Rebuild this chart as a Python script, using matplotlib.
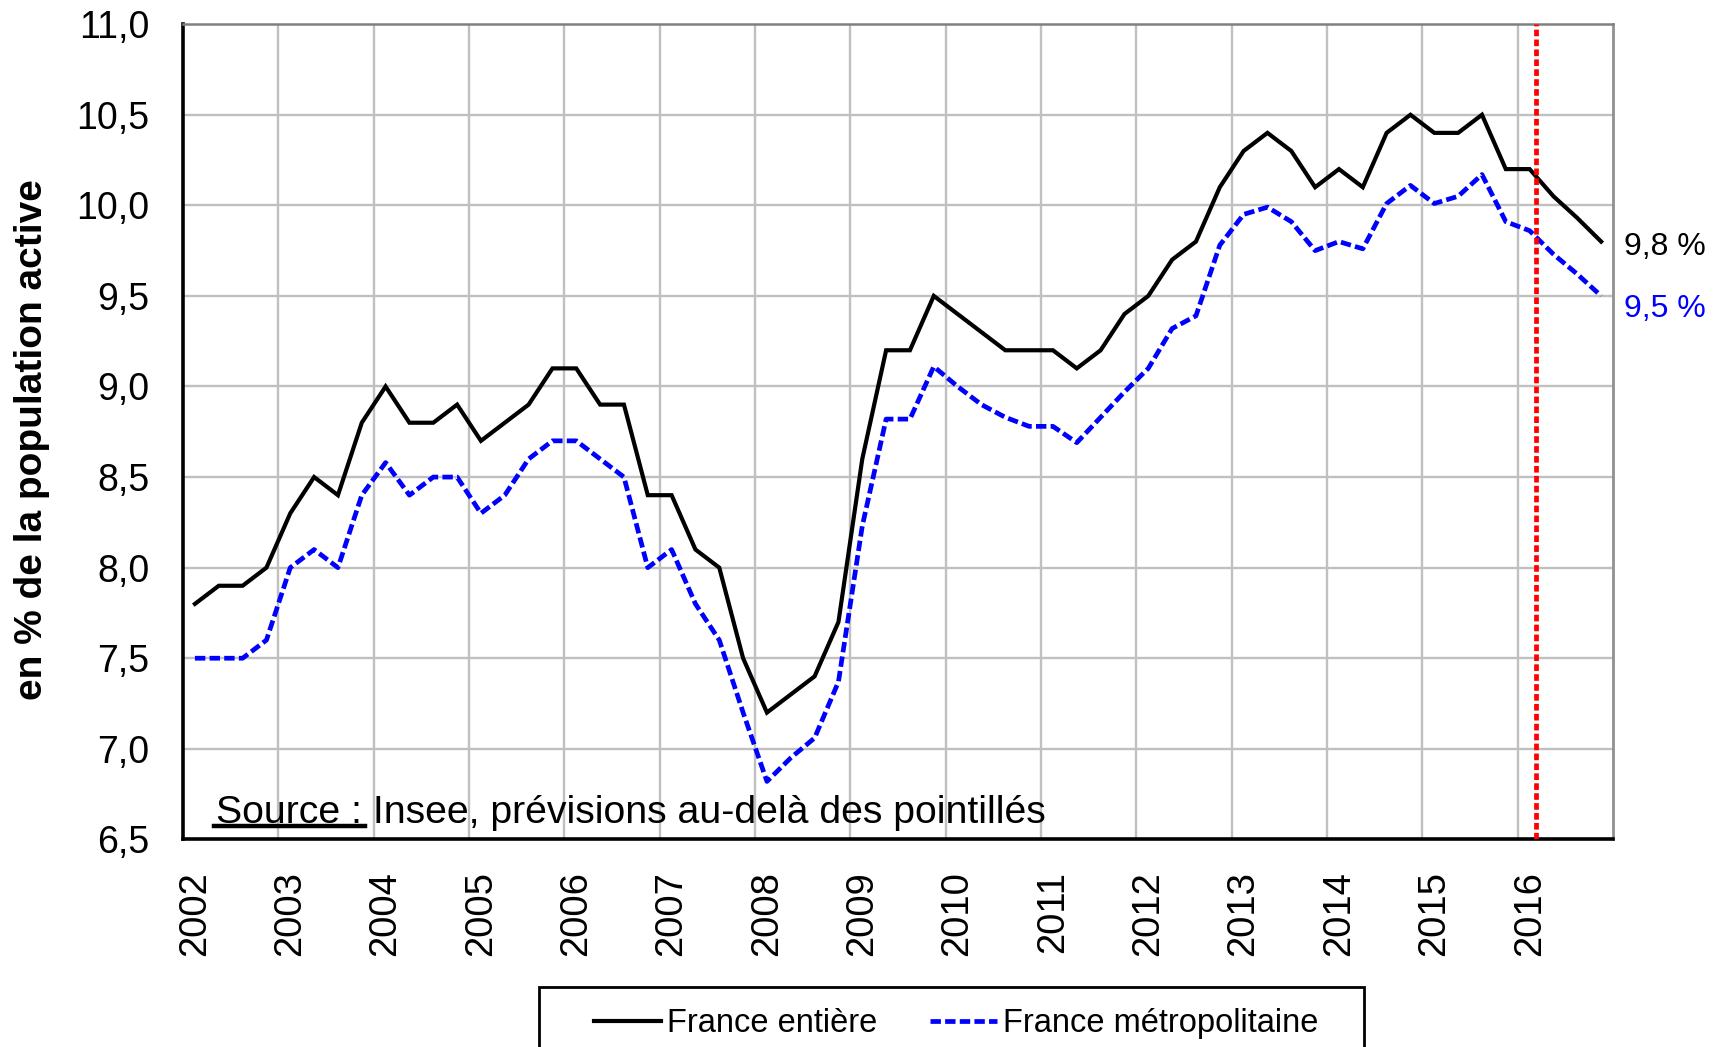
import numpy as np
import matplotlib
matplotlib.use("Agg")
import matplotlib.pyplot as plt
from matplotlib.lines import Line2D
from matplotlib.patches import Rectangle
from matplotlib.ticker import FuncFormatter
import matplotlib.transforms as mtransforms

plt.rcParams['font.family'] = ['Liberation Sans', 'DejaVu Sans']

# quarterly unemployment rate, 2002Q1 .. 2016Q4
years = list(range(2002, 2017))
france_entiere = [
    7.8, 7.9, 7.9, 8.0,
    8.3, 8.5, 8.4, 8.8,
    9.0, 8.8, 8.8, 8.9,
    8.7, 8.8, 8.9, 9.1,
    9.1, 8.9, 8.9, 8.4,
    8.4, 8.1, 8.0, 7.5,
    7.2, 7.3, 7.4, 7.7,
    8.6, 9.2, 9.2, 9.5,
    9.4, 9.3, 9.2, 9.2,
    9.2, 9.1, 9.2, 9.4,
    9.5, 9.7, 9.8, 10.1,
    10.3, 10.4, 10.3, 10.1,
    10.2, 10.1, 10.4, 10.5,
    10.4, 10.4, 10.5, 10.2,
    10.2, 10.05, 9.93, 9.8,
]
france_metro = [
    7.5, 7.5, 7.5, 7.6,
    8.0, 8.1, 8.0, 8.4,
    8.58, 8.4, 8.5, 8.5,
    8.3, 8.4, 8.6, 8.7,
    8.7, 8.6, 8.5, 8.0,
    8.1, 7.8, 7.6, 7.2,
    6.82, 6.95, 7.06, 7.37,
    8.23, 8.82, 8.82, 9.11,
    9.0, 8.9, 8.83, 8.78,
    8.78, 8.69, 8.83, 8.97,
    9.1, 9.32, 9.39, 9.78,
    9.95, 9.99, 9.91, 9.75,
    9.8, 9.76, 10.01, 10.11,
    10.01, 10.05, 10.17, 9.91,
    9.86, 9.73, 9.62, 9.5,
]
forecast_start = 56.25  # position of the red dotted line (quarter index)
end_labels = ["9,8 %", "9,5 %"]

x = np.arange(len(france_entiere))

fig = plt.figure(figsize=(17.25, 10.47), dpi=100)
ax = fig.add_axes([0.1061, 0.1983, 0.829, 0.7786])

# grid
for xv in np.arange(3.5, len(x) - 1, 4):
    ax.axvline(xv, color='#C0C0C0', lw=1.7, zorder=1)
for yv in np.arange(7.0, 11.0, 0.5):
    ax.axhline(yv, color='#C0C0C0', lw=1.7, zorder=1)

ax.plot(x, france_entiere, color='black', lw=3.0, solid_joinstyle='miter',
        label='France entière', zorder=3)
ax.plot(x, france_metro, color='#0000FF', lw=3.4, ls=(0, (2.2, 0.9)),
        label='France métropolitaine', zorder=3)
ax.axvline(forecast_start, color='#FF0000', lw=3.4, ls=(0, (1.4, 0.7)), zorder=4)

ax.set_xlim(-0.5, len(x) - 0.5)
ax.set_ylim(6.5, 11.0)
ax.set_xticks(np.arange(0, len(x), 4))
ax.set_xticklabels([str(y) for y in years], rotation=90, fontsize=27.5)
ax.set_yticks(np.arange(6.5, 11.01, 0.5))
ax.yaxis.set_major_formatter(FuncFormatter(lambda v, p: f"{v:.1f}".replace('.', ',')))
ax.tick_params(axis='y', length=0, pad=24, labelsize=27)
ax.tick_params(axis='x', length=0, pad=23)

ax.spines['left'].set_linewidth(2.6)
ax.spines['bottom'].set_linewidth(2.6)
ax.spines['top'].set_color('#808080')
ax.spines['right'].set_color('#909090')
ax.spines['top'].set_linewidth(1.8)
ax.spines['right'].set_linewidth(2.0)

ax.set_ylabel('en % de la population active', fontsize=28, fontweight='bold')
ax.yaxis.set_label_coords(-0.093, 0.49)

# end-of-series labels
trans = mtransforms.blended_transform_factory(ax.transAxes, ax.transData)
ax.text(1.008, 9.77, end_labels[0], transform=trans, fontsize=23, color='black', va='center')
ax.text(1.008, 9.43, end_labels[1], transform=trans, fontsize=23, color='#0000FF', va='center')

# source note with underlined "Source :"
t1 = ax.text(0.023, 6.645, 'Source :', transform=trans, fontsize=28.3, va='center', zorder=5)
fig.canvas.draw()
bb = t1.get_window_extent()
inv = ax.transAxes.inverted()
x_end = inv.transform((bb.x1, bb.y0))[0]
ax.text(x_end, 6.645, ' Insee, prévisions au-delà des pointillés', transform=trans,
        fontsize=28.3, va='center', zorder=5)
fig.add_artist(Line2D([bb.x0 - 2, bb.x1 + 3], [bb.y0 + 5, bb.y0 + 5],
                      transform=None, color='black', lw=3.2))

# legend, with its frame running off the bottom edge as in the original
leg = ax.legend(loc='upper left', bbox_to_anchor=(594 / 1725, 1 - 1008 / 1047),
                bbox_transform=fig.transFigure, ncol=2, fontsize=23.5,
                frameon=False, handlelength=2.05, handletextpad=0.2,
                columnspacing=1.6, borderpad=0, borderaxespad=0)
fig.add_artist(Rectangle((539 / 1725, -0.03), 825 / 1725, 0.03 + 60 / 1047,
                         transform=fig.transFigure, fill=False,
                         edgecolor='black', lw=2.0, clip_on=False))

fig.savefig('out.png', dpi=100)
